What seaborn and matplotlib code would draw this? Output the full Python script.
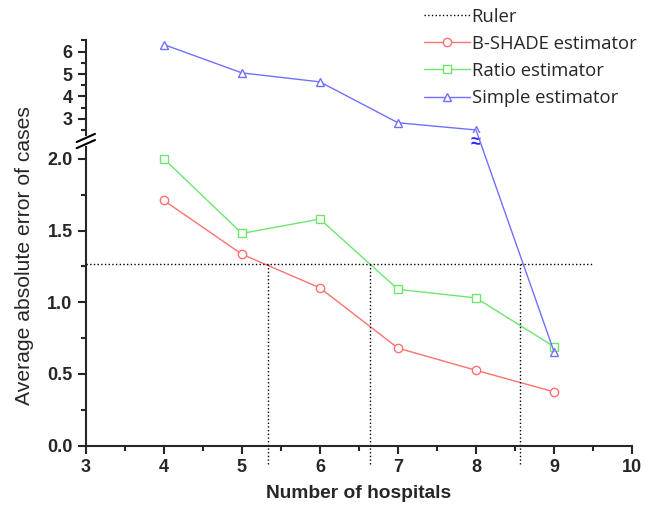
import matplotlib
matplotlib.use("Agg")
import numpy as np
import pandas as pd
import seaborn as sns
import matplotlib.pyplot as plt
from matplotlib.patches import ConnectionPatch
from matplotlib.lines import Line2D

# data
hospitals = [4, 5, 6, 7, 8, 9]
bshade = [1.71, 1.335, 1.10, 0.68, 0.525, 0.375]
ratio = [2.00, 1.48, 1.58, 1.09, 1.03, 0.69]
simple = [6.31, 5.05, 4.65, 2.83, 2.51, 0.655]
ruler_y = 1.265
ruler_x = [3, 9.5]
cross_x = [5.33, 6.64, 8.56]

sns.set_style("ticks")
plt.rcParams["font.family"] = ["Liberation Sans", "DejaVu Sans"]

red = "#ff7070"
green = "#6ee66e"
blue = "#7070ff"

fig = plt.figure(figsize=(6.55, 5.11), dpi=100)
ax_bot = fig.add_axes([0.131, 0.128, 0.834, 0.585])
ax_top = fig.add_axes([0.131, 0.736, 0.834, 0.186])

df = pd.DataFrame({"n": hospitals, "bshade": bshade, "ratio": ratio, "simple": simple})
low_split = 2.2
df_hi = df[df["simple"] > low_split]
df_lo = df[df["simple"] <= low_split]

mk = dict(markerfacecolor="white", markersize=6, markeredgewidth=1, linewidth=1)
sns.lineplot(data=df, x="n", y="bshade", ax=ax_bot, color=red, marker="o",
             markeredgecolor=red, **mk)
sns.lineplot(data=df, x="n", y="ratio", ax=ax_bot, color=green, marker="s",
             markeredgecolor=green, **mk)
sns.lineplot(data=df_lo, x="n", y="simple", ax=ax_bot, color=blue, marker="^",
             markeredgecolor=blue, **mk)
sns.lineplot(data=df_hi, x="n", y="simple", ax=ax_top, color=blue, marker="^",
             markeredgecolor=blue, **mk)

# simple estimator drops across the break
con = ConnectionPatch(xyA=(df_hi["n"].iloc[-1], df_hi["simple"].iloc[-1]), coordsA=ax_top.transData,
                      xyB=(df_lo["n"].iloc[0], df_lo["simple"].iloc[0]), coordsB=ax_bot.transData,
                      color=blue, linewidth=1, zorder=1)
fig.add_artist(con)
ax_top.annotate("≈", (df_hi["n"].iloc[-1], df_hi["simple"].iloc[-1]), xytext=(0, -9),
                textcoords="offset points", ha="center", va="center", color="#2a2aff",
                fontsize=13, fontweight="bold",
                bbox=dict(boxstyle="square,pad=0.05", facecolor="white", edgecolor="none"))

# ruler
ax_bot.plot(ruler_x, [ruler_y, ruler_y], color="black", linestyle=":", linewidth=1)
for cx in cross_x:
    ax_bot.plot([cx, cx], [-0.13, ruler_y], color="black", linestyle=":", linewidth=1,
                clip_on=False)

for ax in (ax_bot, ax_top):
    ax.set_xlim(3, 10)
    ax.set_xlabel("")
    ax.set_ylabel("")
    sns.despine(ax=ax)
    ax.tick_params(axis="both", which="major", length=6, width=1.5, labelsize=13)
    ax.tick_params(axis="both", which="minor", length=3.5, width=1.5)
    for s in ax.spines.values():
        s.set_linewidth(1.5)

ax_bot.set_ylim(0, 2.085)
ax_bot.set_yticks([0, 0.5, 1.0, 1.5, 2.0])
ax_bot.set_yticklabels(["0.0", "0.5", "1.0", "1.5", "2.0"], fontweight="bold")
ax_bot.set_yticks(np.arange(0.25, 2.0, 0.5), minor=True)
ax_bot.set_xticks(range(3, 11))
ax_bot.set_xticklabels([str(v) for v in range(3, 11)], fontweight="bold")
ax_bot.set_xticks(np.arange(3.5, 10, 1), minor=True)

ax_top.set_ylim(2.29, 6.52)
ax_top.set_yticks([3, 4, 5, 6])
ax_top.set_yticklabels(["3", "4", "5", "6"], fontweight="bold")
ax_top.set_yticks([2.5, 3.5, 4.5, 5.5, 6.5], minor=True)
ax_top.spines["bottom"].set_visible(False)
ax_top.tick_params(axis="x", which="both", bottom=False, labelbottom=False)
ax_top.patch.set_alpha(0)

# break marks on the y axis
for yb in (0.718, 0.730):
    fig.add_artist(Line2D([0.117, 0.145], [yb - 0.008, yb + 0.008], color="black",
                          linewidth=1.5, transform=fig.transFigure))

fig.text(0.038, 0.499, "Average absolute error of cases", rotation=90,
         ha="center", va="center", fontsize=15.2)
fig.text(0.548, 0.035, "Number of hospitals", ha="center", va="center",
         fontsize=13.8, fontweight="bold")

handles = [
    Line2D([], [], color="black", linestyle=":", linewidth=1),
    Line2D([], [], color=red, marker="o", markeredgecolor=red, **mk),
    Line2D([], [], color=green, marker="s", markeredgecolor=green, **mk),
    Line2D([], [], color=blue, marker="^", markeredgecolor=blue, **mk),
]
labels = ["Ruler", "B-SHADE estimator", "Ratio estimator", "Simple estimator"]
fig.legend(handles, labels, loc="upper left", bbox_to_anchor=(0.627, 1.01), frameon=False,
           prop={"family": "Open Sans", "size": 13.3}, handlelength=2.5,
           handletextpad=0.1, labelspacing=0.49, borderaxespad=0.3)

fig.savefig("out.png", dpi=100)
